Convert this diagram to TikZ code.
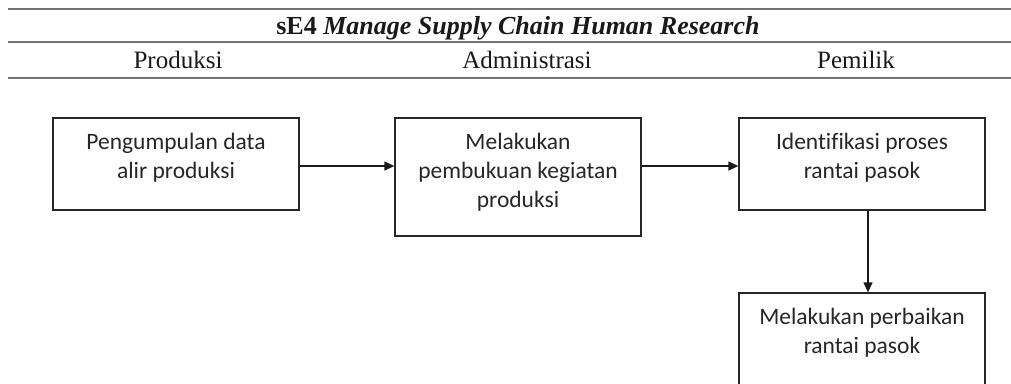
\documentclass[tikz,border=0pt]{standalone}
\usepackage{fontspec}
\setmainfont{Liberation Serif}
\newfontfamily\boxfont[Ligatures=NoCommon]{Carlito}
\usetikzlibrary{arrows.meta}
\begin{document}
\begin{tikzpicture}[x=1pt,y=-1pt,
  rule/.style={draw=black!55, line width=1.6pt},
  head/.style={font=\fontsize{25}{30}\selectfont, inner sep=0pt, anchor=base, text=black!90},
  stepbox/.style={draw=black!85, line width=1.3pt},
  txt/.style={font=\boxfont\fontsize{23.5}{29}\selectfont, inner sep=0pt, anchor=base, text=black!85},
  flow/.style={draw=black!90, line width=1.3pt, -{Triangle[length=10pt,width=9pt]}}]
\useasboundingbox (0,0) rectangle (1011,383);
\clip (0,0) rectangle (1011,383);

% header rules
\coordinate (r1a) at (8,9);   \coordinate (r1b) at (1011,9);
\coordinate (r2a) at (8,42);  \coordinate (r2b) at (1011,42);
\coordinate (r3a) at (8,78);  \coordinate (r3b) at (1011,78);
\draw[rule] (r1a) -- (r1b);
\draw[rule] (r2a) -- (r2b);
\draw[rule] (r3a) -- (r3b);

% header texts
\node[head, font=\fontsize{26}{30}\selectfont] (title) at (518,34) {\textbf{sE4} \textbf{\textit{Manage Supply Chain Human Research}}};
\node[head] (h1) at (178,68) {Produksi};
\node[head] (h2) at (527,68) {Administrasi};
\node[head] (h3) at (856,68) {Pemilik};

% process boxes
\node[stepbox, minimum width=246pt, minimum height=92pt] (b1) at (176,164) {};
\node[stepbox, minimum width=246pt, minimum height=118pt] (b2) at (518,177) {};
\node[stepbox, minimum width=246pt, minimum height=92pt] (b3) at (862,164) {};
\node[stepbox, minimum width=246pt, minimum height=120pt] (b4) at (862,353) {};

% box texts
\node[txt] (t1a) at (176,149) {Pengumpulan data};
\node[txt] (t1b) at (176,178) {alir produksi};
\node[txt] (t2a) at (518,149) {Melakukan};
\node[txt] (t2b) at (518,178) {pembukuan kegiatan};
\node[txt] (t2c) at (518,207) {produksi};
\node[txt] (t3a) at (862,149) {Identifikasi proses};
\node[txt] (t3b) at (862,178) {rantai pasok};
\node[txt] (t4a) at (862,324) {Melakukan perbaikan};
\node[txt] (t4b) at (862,353) {rantai pasok};

% connectors
\draw[flow] (b1.east |- 0,166) -- (b2.west |- 0,166);
\draw[flow] (b2.east |- 0,166) -- (b3.west |- 0,166);
\draw[flow] (b3.south -| 868,0) -- (b4.north -| 868,0);
\end{tikzpicture}
\end{document}
